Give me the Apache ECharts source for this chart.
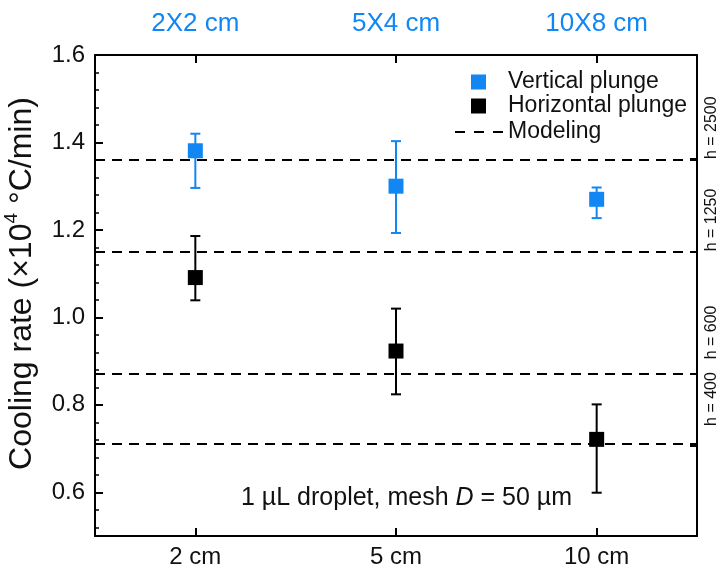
<!DOCTYPE html>
<html>
<head>
<meta charset="utf-8">
<script src="https://cdn.jsdelivr.net/npm/echarts@6/dist/echarts.min.js"></script>
<style>
  html, body { margin: 0; padding: 0; background: #fff; }
  #chart { width: 722px; height: 574px; }
</style>
</head>
<body>
<div id="chart"></div>
<script>
// Plunge height (bottom axis) and matching mesh size (top axis)
const heights = ['2 cm', '5 cm', '10 cm'];
const meshSizes = ['2X2 cm', '5X4 cm', '10X8 cm'];

// Measured cooling rates (×10^4 °C/min) with error-bar limits
const verticalMean = [1.381, 1.300, 1.270];
const verticalLow = [1.296, 1.193, 1.227];
const verticalHigh = [1.420, 1.403, 1.297];
const horizontalMean = [1.091, 0.923, 0.721];
const horizontalLow = [1.039, 0.824, 0.599];
const horizontalHigh = [1.186, 1.020, 0.801];

// Modelled cooling rates for heat-transfer coefficients h
const modelRates = [1.362, 1.151, 0.872, 0.706];
const modelH = [2500, 1250, 600, 400];

// Left axis ticks
const yTicks = [0.6, 0.8, 1.0, 1.2, 1.4, 1.6];
const yMinorTicks = [0.52, 0.56, 0.64, 0.68, 0.72, 0.76, 0.84, 0.88, 0.92, 0.96,
  1.04, 1.08, 1.12, 1.16, 1.24, 1.28, 1.32, 1.36, 1.44, 1.48, 1.52, 1.56];

const Y_MIN = 0.5, Y_MAX = 1.6;
const BLUE = '#1286f3';
const FONT = 'Liberation Sans, Arial, sans-serif';
// extra lift (px, along the text) for the h labels on the right frame
const hLabelLift = [0, 0, 14, 20];

function errorBarSeries(name, low, high, color) {
  return {
    type: 'custom',
    name: name,
    xAxisIndex: 0,
    yAxisIndex: 0,
    z: 3,
    silent: true,
    data: heights.map((h, i) => [h, low[i], high[i]]),
    encode: { x: 0, y: [1, 2] },
    renderItem: function (params, api) {
      const x = api.value(0);
      const top = api.coord([x, api.value(2)]);
      const bot = api.coord([x, api.value(1)]);
      const half = 5;
      const st = { stroke: color, lineWidth: 2 };
      return {
        type: 'group',
        children: [
          { type: 'line', shape: { x1: top[0], y1: top[1], x2: bot[0], y2: bot[1] }, style: st },
          { type: 'line', shape: { x1: top[0] - half, y1: top[1], x2: top[0] + half, y2: top[1] }, style: st },
          { type: 'line', shape: { x1: bot[0] - half, y1: bot[1], x2: bot[0] + half, y2: bot[1] }, style: st }
        ]
      };
    }
  };
}

const hRich = {};
hLabelLift.forEach((p, i) => {
  hRich['h' + i] = { fontFamily: FONT, fontSize: 16, color: '#111', padding: [0, 0, 0, p] };
});

const chart = echarts.init(document.getElementById('chart'));
chart.setOption({
  animation: false,
  backgroundColor: '#fff',
  textStyle: { fontFamily: FONT },
  grid: { left: 95, right: 25, top: 55, bottom: 38, containLabel: false, outerBoundsMode: 'none' },
  title: {
    text: '1 µL droplet, mesh {i|D} = 50 µm',
    left: 236,
    top: 481,
    textStyle: {
      fontFamily: FONT, fontSize: 25, fontWeight: 'normal', color: '#111',
      rich: { i: { fontFamily: FONT, fontSize: 25, fontStyle: 'italic', color: '#111' } }
    }
  },
  legend: [
    {
      orient: 'vertical',
      left: 466,
      top: 65,
      itemWidth: 15,
      itemHeight: 15,
      itemGap: 0,
      icon: 'rect',
      data: ['Vertical plunge', 'Horizontal plunge'],
      textStyle: { fontFamily: FONT, fontSize: 23, lineHeight: 24, color: '#111', padding: [0, 0, 0, 17] }
    },
    {
      orient: 'vertical',
      left: 450,
      top: 115,
      itemWidth: 48,
      itemHeight: 2,
      data: [{ name: 'Modeling', icon: 'path://M0,0h10v2h-10z M19,0h10v2h-10z M38,0h10v2h-10z' }],
      textStyle: { fontFamily: FONT, fontSize: 23, lineHeight: 24, color: '#111' }
    }
  ],
  xAxis: [
    {
      type: 'category',
      position: 'bottom',
      data: heights,
      axisLine: { show: true, lineStyle: { color: '#000', width: 2 } },
      axisTick: { show: true, inside: true, alignWithLabel: true, length: 8, lineStyle: { color: '#000', width: 2 } },
      axisLabel: { color: '#111', fontSize: 24, fontFamily: FONT, margin: 9 },
      splitLine: { show: false }
    },
    {
      type: 'category',
      position: 'top',
      data: meshSizes,
      axisLine: { show: true, lineStyle: { color: '#000', width: 2 } },
      axisTick: { show: true, inside: true, alignWithLabel: true, length: 8, lineStyle: { color: '#000', width: 2 } },
      axisLabel: { color: BLUE, fontSize: 26, fontFamily: FONT, margin: 18 },
      splitLine: { show: false }
    }
  ],
  yAxis: [
    {
      type: 'value',
      position: 'left',
      min: Y_MIN,
      max: Y_MAX,
      name: 'Cooling rate (×10{sup|4} °C/min)',
      nameLocation: 'middle',
      nameGap: 47,
      nameTextStyle: {
        fontFamily: FONT, fontSize: 32, color: '#111', lineHeight: 38, padding: [0, 0, 0, 24],
        rich: { sup: { fontFamily: FONT, fontSize: 19, lineHeight: 19, verticalAlign: 'top', color: '#111' } }
      },
      axisLine: { show: true, lineStyle: { color: '#000', width: 2 } },
      axisTick: { show: true, inside: true, length: 8, customValues: yTicks, lineStyle: { color: '#000', width: 2 } },
      axisLabel: { color: '#111', fontSize: 24, fontFamily: FONT, margin: 10, customValues: yTicks,
        formatter: v => v.toFixed(1) },
      splitLine: { show: false }
    },
    {
      type: 'value',
      position: 'right',
      min: Y_MIN,
      max: Y_MAX,
      axisLine: { show: true, lineStyle: { color: '#000', width: 2 } },
      axisTick: { show: true, inside: true, length: 7, customValues: modelRates, lineStyle: { color: '#000', width: 2 } },
      axisLabel: {
        show: true, customValues: modelRates, rotate: 90, align: 'left', verticalAlign: 'middle',
        margin: 15, fontSize: 16, fontFamily: FONT, color: '#111',
        formatter: v => {
          const i = modelRates.indexOf(v);
          return '{h' + i + '|h = ' + modelH[i] + '}';
        },
        rich: hRich
      },
      splitLine: { show: false }
    },
    {
      // minor ticks on the left frame
      type: 'value',
      position: 'left',
      min: Y_MIN,
      max: Y_MAX,
      axisLine: { show: false },
      axisTick: { show: true, inside: true, length: 4, customValues: yMinorTicks, lineStyle: { color: '#000', width: 1.5 } },
      axisLabel: { show: false },
      splitLine: { show: false }
    }
  ],
  series: [
    {
      type: 'line',
      name: 'Modeling',
      data: [],
      symbol: 'none',
      lineStyle: { color: '#000', width: 2, type: [10, 7] },
      itemStyle: { color: '#000' },
      markLine: {
        silent: true,
        symbol: ['none', 'none'],
        label: { show: false },
        lineStyle: { color: '#000', width: 2, type: [10, 7] },
        data: modelRates.map(v => ({ yAxis: v }))
      }
    },
    errorBarSeries('Vertical plunge err', verticalLow, verticalHigh, BLUE),
    errorBarSeries('Horizontal plunge err', horizontalLow, horizontalHigh, '#000'),
    {
      type: 'scatter',
      name: 'Vertical plunge',
      data: verticalMean.map((v, i) => [heights[i], v]),
      symbol: 'rect',
      symbolSize: 15,
      z: 4,
      itemStyle: { color: BLUE, opacity: 1 }
    },
    {
      type: 'scatter',
      name: 'Horizontal plunge',
      data: horizontalMean.map((v, i) => [heights[i], v]),
      symbol: 'rect',
      symbolSize: 15,
      z: 4,
      itemStyle: { color: '#000', opacity: 1 }
    }
  ]
});
</script>
</body>
</html>
